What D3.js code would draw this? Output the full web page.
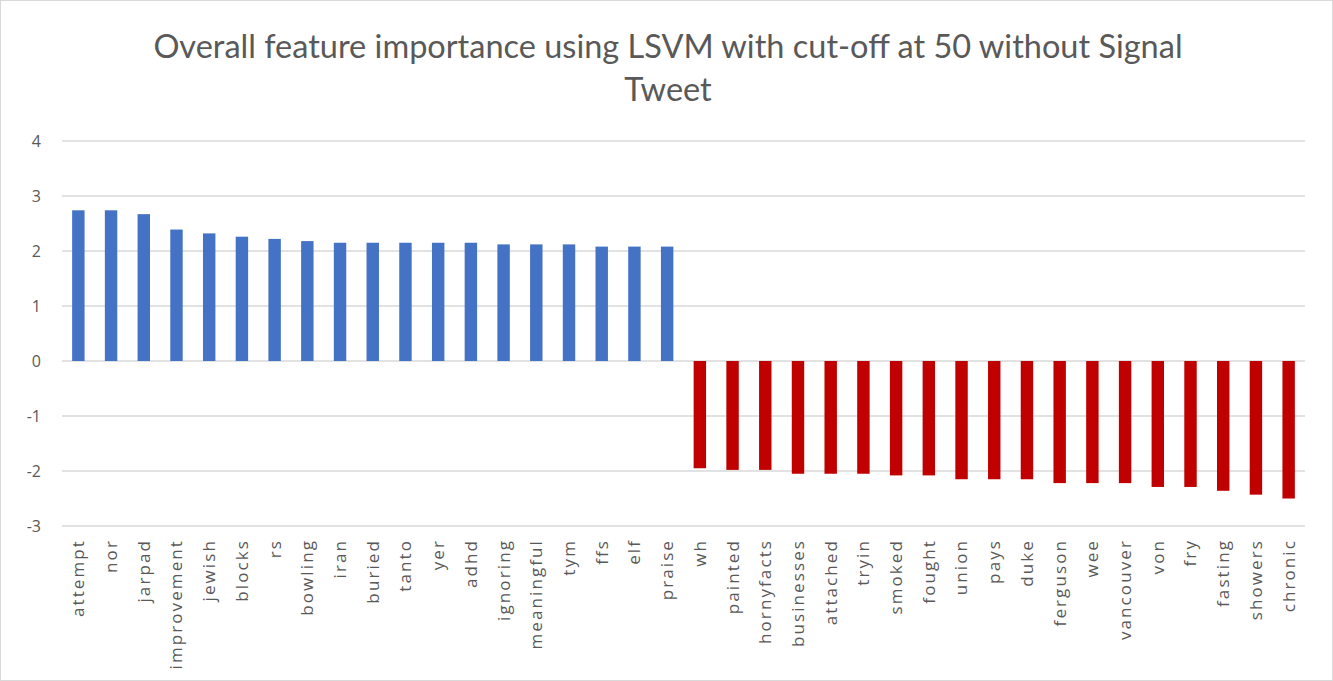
<!DOCTYPE html>
<html>
<head>
<meta charset="utf-8">
<script src="https://cdn.jsdelivr.net/npm/d3@7"></script>
<style>
  html, body { margin: 0; padding: 0; background: #fff; }
  svg { display: block; }
</style>
</head>
<body>
<svg id="chart" width="1333" height="681"></svg>
<script>
// Feature weights from the linear SVM: strongest positive and negative terms
const positiveTerms = ["attempt","nor","jarpad","improvement","jewish","blocks","rs","bowling","iran","buried","tanto","yer","adhd","ignoring","meaningful","tym","ffs","elf","praise"];
const positiveValues = [2.74,2.74,2.67,2.39,2.32,2.26,2.22,2.18,2.15,2.15,2.15,2.15,2.15,2.12,2.12,2.12,2.08,2.08,2.08];
const negativeTerms = ["wh","painted","hornyfacts","businesses","attached","tryin","smoked","fought","union","pays","duke","ferguson","wee","vancouver","von","fry","fasting","showers","chronic"];
const negativeValues = [-1.95,-1.98,-1.98,-2.05,-2.05,-2.05,-2.08,-2.08,-2.15,-2.15,-2.15,-2.22,-2.22,-2.22,-2.29,-2.29,-2.36,-2.43,-2.50];
const yTicks = [-3,-2,-1,0,1,2,3,4];
const titleLines = ["Overall feature importance using LSVM with cut-off at 50 without Signal", "Tweet"];

const data = positiveTerms.map((t, i) => ({term: t, value: positiveValues[i]}))
  .concat(negativeTerms.map((t, i) => ({term: t, value: negativeValues[i]})));

const svg = d3.select("#chart");
const W = 1333, H = 681;
const font = "'Open Sans', Lato, sans-serif";
const titleFont = "Lato, 'Open Sans', sans-serif";
const textColor = "#595959";

// outer frame
svg.append("rect").attr("x", 0.5).attr("y", 0.5).attr("width", W - 1).attr("height", H - 1)
  .attr("fill", "#fff").attr("stroke", "#d9d9d9");

const plot = {left: 62, right: 1305, top: 141, bottom: 526};

const x = d3.scaleBand().domain(data.map(d => d.term))
  .range([plot.left, plot.right]).paddingInner(0.62).paddingOuter(0.31);
const y = d3.scaleLinear().domain([-3, 4]).range([plot.bottom, plot.top]);

// gridlines
svg.append("g").selectAll("line").data(yTicks).join("line")
  .attr("x1", plot.left).attr("x2", plot.right)
  .attr("y1", d => y(d)).attr("y2", d => y(d))
  .attr("stroke", "#d9d9d9").attr("stroke-width", 1.3);

// y tick labels
svg.append("g").selectAll("text").data(yTicks).join("text")
  .attr("x", 41).attr("y", d => y(d)).attr("dy", "0.35em")
  .attr("text-anchor", "end")
  .attr("font-family", font).attr("font-size", 16).attr("fill", textColor)
  .text(d => d);

// bars
svg.append("g").selectAll("rect").data(data).join("rect")
  .attr("x", d => x(d.term))
  .attr("width", x.bandwidth())
  .attr("y", d => y(Math.max(0, d.value)))
  .attr("height", d => Math.abs(y(d.value) - y(0)))
  .attr("fill", d => d.value >= 0 ? "#4472C4" : "#C00000");

// category labels, rotated
svg.append("g").selectAll("text").data(data).join("text")
  .attr("transform", d => `translate(${x(d.term) + x.bandwidth() / 2},539) rotate(-90)`)
  .attr("dy", "0.35em")
  .attr("text-anchor", "end")
  .attr("font-family", font).attr("font-size", 17).attr("letter-spacing", 2.1)
  .attr("fill", textColor)
  .text(d => d.term);

// title
svg.append("g").selectAll("text").data(titleLines).join("text")
  .attr("x", 668).attr("y", (d, i) => 58 + i * 43)
  .attr("text-anchor", "middle")
  .attr("font-family", titleFont).attr("font-size", 32.5).attr("fill", textColor)
  .text(d => d);
</script>
</body>
</html>
